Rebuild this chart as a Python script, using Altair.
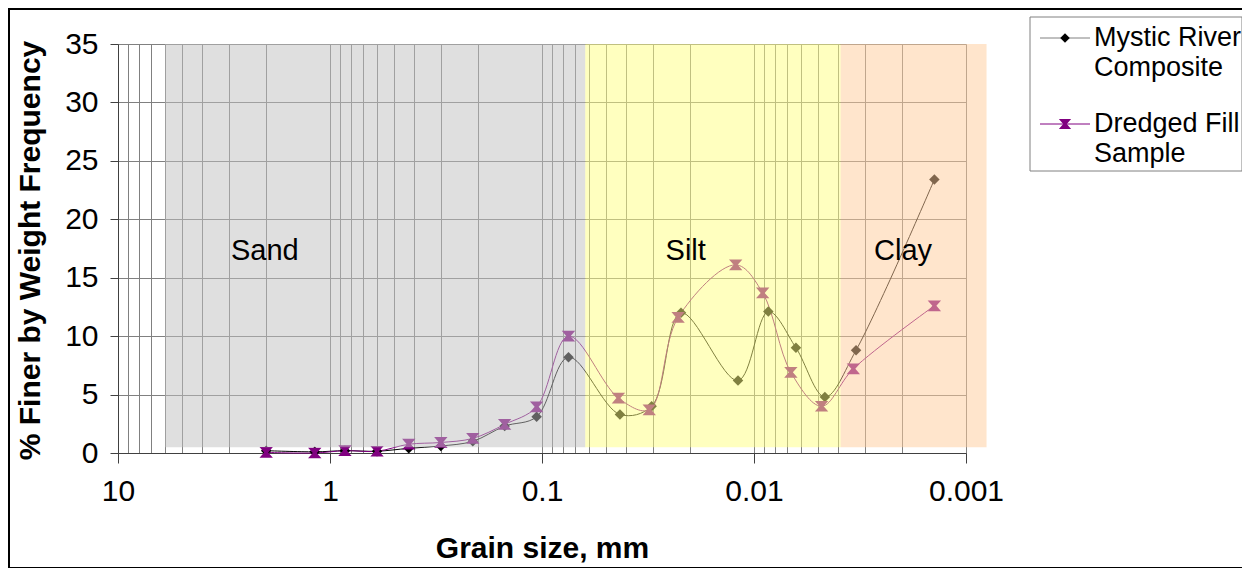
import altair as alt
import pandas as pd

# ---- data ----
mystic_size = [2.0, 1.18, 0.85, 0.6, 0.425, 0.3, 0.212, 0.15, 0.106, 0.075,
               0.0429, 0.0304, 0.0221, 0.0119, 0.00856, 0.00634, 0.00463, 0.0033, 0.00141]
mystic_pct = [0.2, 0.1, 0.2, 0.15, 0.4, 0.6, 1.0, 2.3, 3.1, 8.2,
              3.3, 4.0, 12.0, 6.2, 12.1, 9.0, 4.8, 8.8, 23.4]

dredged_size = [2.0, 1.18, 0.85, 0.6, 0.425, 0.3, 0.212, 0.15, 0.106, 0.075,
                0.0436, 0.0312, 0.0228, 0.0122, 0.0091, 0.0067, 0.0048, 0.0034, 0.00141]
dredged_pct = [0.05, 0.0, 0.2, 0.15, 0.75, 0.9, 1.25, 2.45, 3.95, 10.0,
               4.7, 3.7, 11.6, 16.1, 13.7, 6.9, 4.0, 7.2, 12.6]

zone_names = ["Sand", "Silt", "Clay"]
zone_from = [6.0, 0.0625, 0.0039]
zone_to = [0.0625, 0.0039, 0.0008]
zone_colors = ["#c0c0c0", "#ffff80", "#ffcc99"]
zone_label_x = [2.03, 0.021, 0.00198]
zone_label_y = [17.3, 17.3, 17.3]

x_labels = [10, 1, 0.1, 0.01, 0.001]
grid_vals = sorted({round(m * 10.0 ** e, 6) for e in range(-3, 1) for m in range(1, 10)} | {10.0})

series_names = [["Mystic River", "Composite"], ["Dredged Fill", "Sample"]]
series_colors = ["#000000", "#800080"]
HOURGLASS = "M-1,-0.8L1,-0.8L0.3,0L1,0.8L-1,0.8L-0.3,0Z"

FONT = "Liberation Sans"

mystic = pd.DataFrame({"size": mystic_size, "pct": mystic_pct})
dredged = pd.DataFrame({"size": dredged_size, "pct": dredged_pct})
zones = pd.DataFrame({"zone": zone_names, "x1": zone_from, "x2": zone_to,
                      "lx": zone_label_x, "ly": zone_label_y})
one = pd.DataFrame({"k": [0]})

xs = alt.Scale(type="log", domain=[0.001, 10], reverse=True, nice=False)
ys = alt.Scale(domain=[0, 35], nice=False)

is_major = "indexof([10,1,0.1,0.01,0.001], datum.value) >= 0"

x_axis = alt.Axis(
    values=grid_vals,
    labelExpr=f"{is_major} ? format(datum.value, '~g') : ''",
    tickOpacity={"condition": {"test": is_major, "value": 1}, "value": 0},
    tickSize=10, tickColor="#404040",
    labelPadding=13, labelFont=FONT, labelFontSize=30, labelColor="black",
    grid=True, gridColor="#808080", gridWidth=1,
    domainColor="#404040",
    title="Grain size, mm", titleFont=FONT, titleFontSize=30, titleFontWeight="bold",
    titleColor="black", titleY=95, titleBaseline="middle",
    labelFlush=False, labelOverlap=False,
)
y_axis = alt.Axis(
    values=[0, 5, 10, 15, 20, 25, 30, 35],
    tickSize=8, tickColor="#404040",
    labelPadding=12, labelFont=FONT, labelFontSize=30, labelColor="black",
    grid=True, gridColor="#808080", gridWidth=1,
    domainColor="#404040",
    title="% Finer by Weight Frequency", titleFont=FONT, titleFontSize=30,
    titleFontWeight="bold", titleColor="black",
    titleX=-88, titleY=206, titleAngle=270, titleBaseline="middle", titleAlign="center",
    labelFlush=False,
)

X = alt.X("size:Q", scale=xs, axis=x_axis, title="Grain size, mm")
Y = alt.Y("pct:Q", scale=ys, axis=y_axis, title="% Finer by Weight Frequency")

line_m = alt.Chart(mystic).mark_line(interpolate="catmull-rom", strokeWidth=1, color="#000000").encode(x=X, y=Y)
line_d = alt.Chart(dredged).mark_line(interpolate="catmull-rom", strokeWidth=1, color="#800080").encode(x=X, y=Y)
pts_m = alt.Chart(mystic).mark_point(shape="diamond", filled=True, size=110, color="#000000", opacity=1).encode(x=X, y=Y)
pts_d = alt.Chart(dredged).mark_point(shape=HOURGLASS, filled=True, size=180, color="#800080", opacity=1).encode(x=X, y=Y)

zone_rect = alt.Chart(zones).mark_rect(opacity=0.5).encode(
    x=alt.X("x1:Q", scale=xs, title="Grain size, mm"),
    x2="x2:Q",
    y=alt.datum(0.5),
    y2=alt.datum(35),
    color=alt.Color("zone:N", scale=alt.Scale(domain=zone_names, range=zone_colors), legend=None),
)
zone_text = alt.Chart(zones).mark_text(font=FONT, fontSize=29, color="black", baseline="middle").encode(
    x=alt.X("lx:Q", scale=xs, title="Grain size, mm"),
    y=alt.Y("ly:Q", scale=ys, title="% Finer by Weight Frequency"),
    text="zone:N",
)

# ---- legend (drawn by hand) ----
leg = [alt.Chart(one).mark_rect(fill="white", stroke="#808080", strokeWidth=1).encode(
    x=alt.value(912), x2=alt.value(1124), y=alt.value(-27), y2=alt.value(127))]
entry_y = [-6, 80]
for i, names in enumerate(series_names):
    yy = entry_y[i]
    col = series_colors[i]
    leg.append(alt.Chart(one).mark_rule(color="#808080" if i == 0 else col, strokeWidth=1).encode(
        x=alt.value(922), x2=alt.value(972), y=alt.value(yy)))
    leg.append(alt.Chart(one).mark_point(
        shape="diamond" if i == 0 else HOURGLASS, filled=True,
        size=90 if i == 0 else 150, color=col, opacity=1).encode(x=alt.value(947), y=alt.value(yy)))
    for j, t in enumerate(names):
        leg.append(alt.Chart(one).mark_text(font=FONT, fontSize=27, color="black",
                                             align="left", baseline="middle").encode(
            x=alt.value(976), y=alt.value(yy + 30 * j), text=alt.value(t)))

frame = alt.Chart(one).mark_rect(fill=None, stroke="black", strokeWidth=2).encode(
    x=alt.value(-109), x2=alt.value(1125), y=alt.value(-35), y2=alt.value(524))

chart = alt.layer(line_m, line_d, pts_m, pts_d, zone_rect, zone_text, *leg, frame).properties(
    width=848, height=409,
    padding={"left": 110, "top": 36, "right": 276, "bottom": 115},
    autosize=alt.AutoSizeParams(type="none"),
    background="white",
).configure_view(stroke=None)

chart.save("out.html", embed_options={"renderer": "svg", "actions": False})
